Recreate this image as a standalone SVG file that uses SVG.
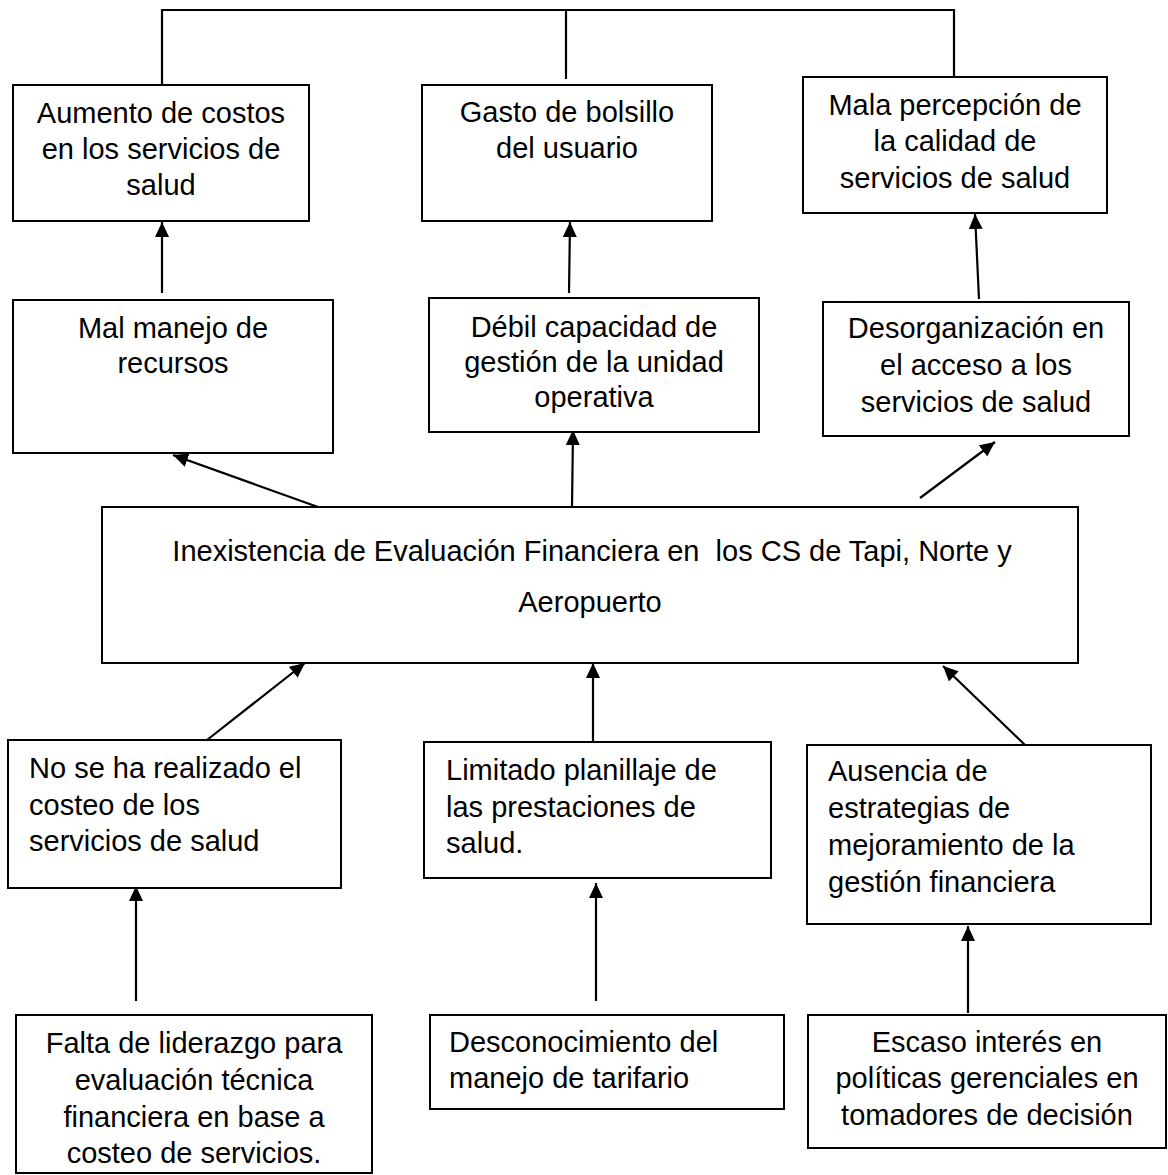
<svg xmlns="http://www.w3.org/2000/svg" width="1168" height="1175" viewBox="0 0 1168 1175">
<style>
.box{fill:#ffffff;stroke:#000000;stroke-width:2}
.t{font-family:"Liberation Sans",Arial,sans-serif;font-size:29px;fill:#000000}
.c{text-anchor:middle}
.ln{stroke:#000000;stroke-width:2.2;fill:none}
.ar{stroke:#000000;stroke-width:2.2;fill:none;marker-end:url(#ah)}
</style>
<defs>
<marker id="ah" markerUnits="userSpaceOnUse" markerWidth="16" markerHeight="15" refX="15" refY="7" orient="auto">
<path d="M0,0 L15,7 L0,14 z" fill="#000000"/>
</marker>
</defs>
<rect width="1168" height="1175" fill="#ffffff"/>
<g id="connectors">
<polyline class="ln" points="162,86 162,10 954,10 954,77"/>
<line class="ln" x1="566" y1="10" x2="566" y2="79"/>
<line class="ar" x1="162" y1="293" x2="162" y2="222"/>
<line class="ar" x1="569" y1="293" x2="570" y2="222"/>
<line class="ar" x1="979" y1="299" x2="975" y2="214"/>
<line class="ar" x1="318" y1="507" x2="173" y2="455"/>
<line class="ar" x1="572" y1="507" x2="573" y2="430"/>
<line class="ar" x1="920" y1="498" x2="995" y2="442"/>
<line class="ar" x1="207" y1="740" x2="305" y2="663"/>
<line class="ar" x1="593" y1="742" x2="593" y2="663"/>
<line class="ar" x1="1025" y1="745" x2="943" y2="666"/>
<line class="ar" x1="136" y1="1001" x2="136" y2="886"/>
<line class="ar" x1="596" y1="1001" x2="596" y2="883"/>
<line class="ar" x1="968" y1="1013" x2="968" y2="926"/>
</g>
<g id="n-aumento">
<rect class="box" x="13" y="85" width="296" height="136"/>
<text class="t c" x="161" y="123">Aumento de costos</text>
<text class="t c" x="161" y="159">en los servicios de</text>
<text class="t c" x="161" y="195">salud</text>
</g>
<g id="n-gasto">
<rect class="box" x="422" y="85" width="290" height="136"/>
<text class="t c" x="567" y="122">Gasto de bolsillo</text>
<text class="t c" x="567" y="158">del usuario</text>
</g>
<g id="n-mala">
<rect class="box" x="803" y="77" width="304" height="136"/>
<text class="t c" x="955" y="115">Mala percepción de</text>
<text class="t c" x="955" y="151">la calidad de</text>
<text class="t c" x="955" y="188">servicios de salud</text>
</g>
<g id="n-mal-manejo">
<rect class="box" x="13" y="300" width="320" height="153"/>
<text class="t c" x="173" y="338">Mal manejo de</text>
<text class="t c" x="173" y="373">recursos</text>
</g>
<g id="n-debil">
<rect class="box" x="429" y="298" width="330" height="134"/>
<text class="t c" x="594" y="337">Débil capacidad de</text>
<text class="t c" x="594" y="372">gestión de la unidad</text>
<text class="t c" x="594" y="407">operativa</text>
</g>
<g id="n-desorg">
<rect class="box" x="823" y="302" width="306" height="134"/>
<text class="t c" x="976" y="338">Desorganización en</text>
<text class="t c" x="976" y="375">el acceso a los</text>
<text class="t c" x="976" y="412">servicios de salud</text>
</g>
<g id="n-central">
<rect class="box" x="102" y="507" width="976" height="156"/>
<text class="t c" x="592" y="561" xml:space="preserve">Inexistencia de Evaluación Financiera en  los CS de Tapi, Norte y</text>
<text class="t c" x="590" y="612">Aeropuerto</text>
</g>
<g id="n-costeo">
<rect class="box" x="8" y="740" width="333" height="148"/>
<text class="t" x="29" y="778">No se ha realizado el</text>
<text class="t" x="29" y="815">costeo de los</text>
<text class="t" x="29" y="851">servicios de salud</text>
</g>
<g id="n-limitado">
<rect class="box" x="424" y="742" width="347" height="136"/>
<text class="t" x="446" y="780">Limitado planillaje de</text>
<text class="t" x="446" y="817">las prestaciones de</text>
<text class="t" x="446" y="853">salud.</text>
</g>
<g id="n-ausencia">
<rect class="box" x="807" y="745" width="344" height="179"/>
<text class="t" x="828" y="781">Ausencia de</text>
<text class="t" x="828" y="818">estrategias de</text>
<text class="t" x="828" y="855">mejoramiento de la</text>
<text class="t" x="828" y="892">gestión financiera</text>
</g>
<g id="n-falta">
<rect class="box" x="16" y="1015" width="356" height="158"/>
<text class="t c" x="194" y="1053">Falta de liderazgo para</text>
<text class="t c" x="194" y="1090">evaluación técnica</text>
<text class="t c" x="194" y="1127">financiera en base a</text>
<text class="t c" x="194" y="1163">costeo de servicios.</text>
</g>
<g id="n-descon">
<rect class="box" x="430" y="1015" width="354" height="94"/>
<text class="t" x="449" y="1052">Desconocimiento del</text>
<text class="t" x="449" y="1088">manejo de tarifario</text>
</g>
<g id="n-escaso">
<rect class="box" x="808" y="1015" width="358" height="133"/>
<text class="t c" x="987" y="1052">Escaso interés en</text>
<text class="t c" x="987" y="1088">políticas gerenciales en</text>
<text class="t c" x="987" y="1125">tomadores de decisión</text>
</g>
</svg>
